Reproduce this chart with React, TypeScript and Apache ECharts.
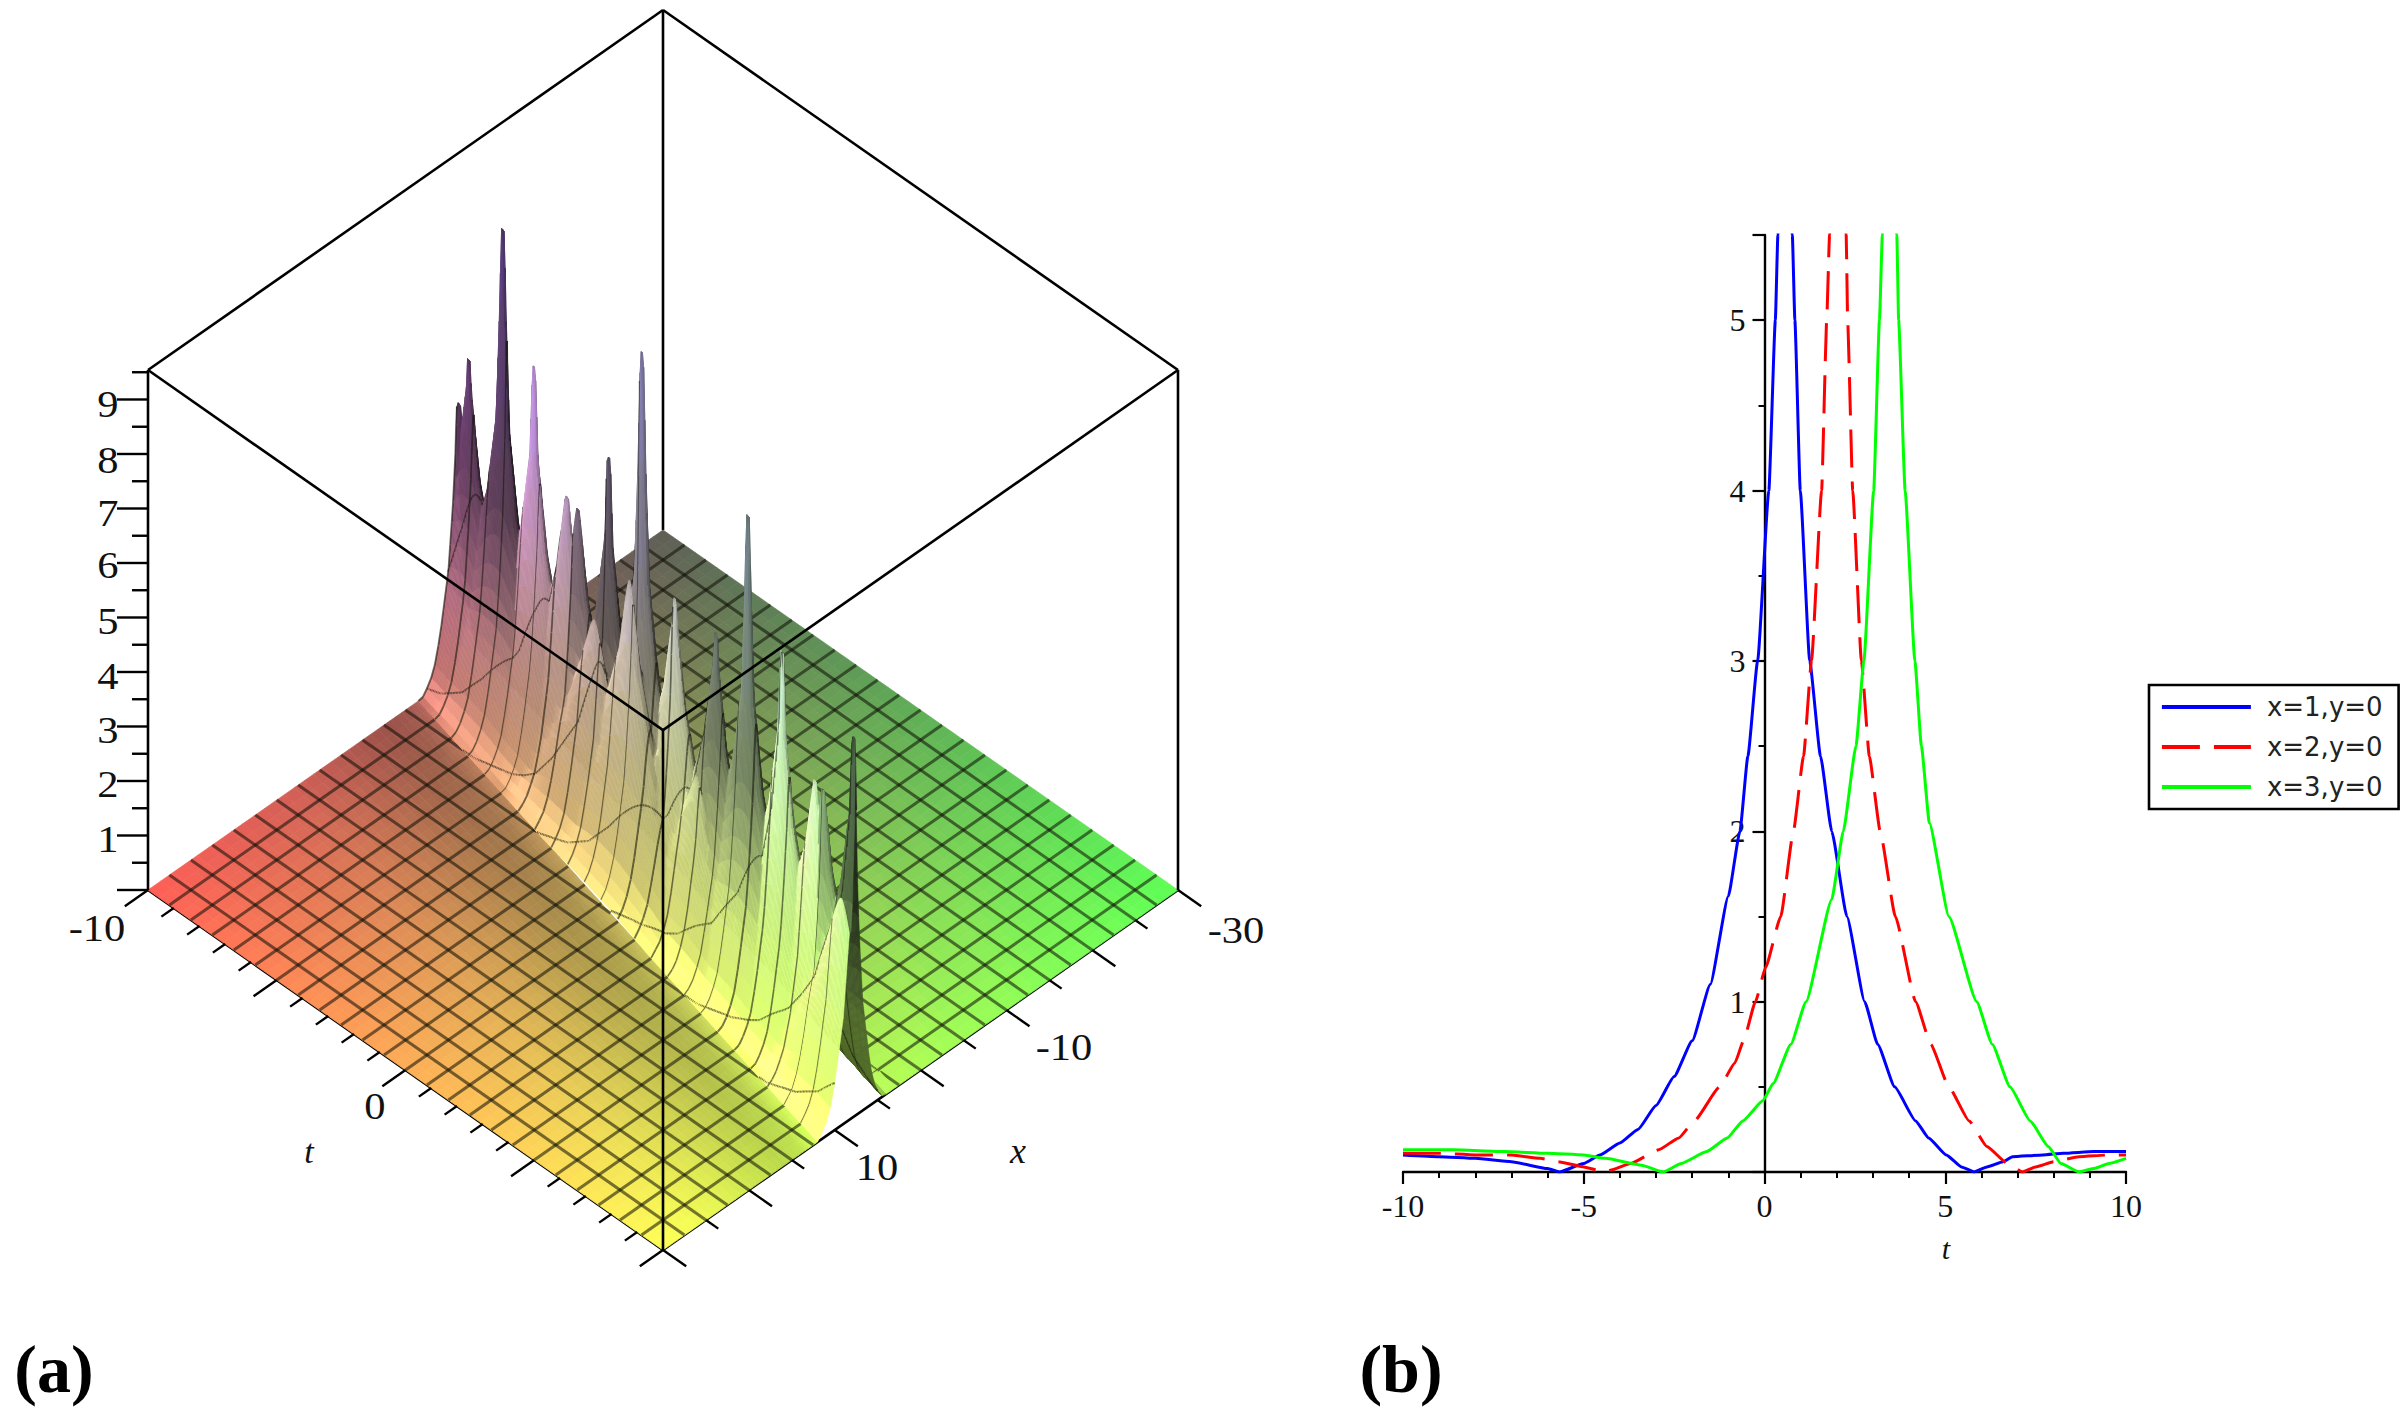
import React, { useEffect, useRef } from "react";
import * as echarts from "echarts";

// ---------- panel (a) ----------
const tRange = [-10, 10];
const xRange = [-30, 30];
const zTop = 9.54;
const zPxPerUnit = 54.5;
const meshCells = 24;
const ridgeEndsT = [-10, 10];
const ridgeEndsX = [-6, 7.5];
// needle positions on the singular ridge (t, x) and their heights
const spikeT = [-9.4, -9.9, -7.7, -6.14, -4.49, -3.94, -2.39, -0.73, 0.92, 2.98, 4.58, 6.28, 7.94, 8.34, 9.9, -2.78, -1.02, 0.38, 2.34, 3.88, 5.48, 9.6];
const spikeX = [-5.6, -5.94, -4.44, -3.42, -2.28, -1.92, -0.86, 0.24, 1.38, 2.76, 3.84, 4.98, 6.12, 6.36, 7.5, -0.42, 0.78, 1.74, 3.06, 4.08, 5.16, 7.92];
const spikeZ = [6.0, 5.0, 9.08, 7.2, 5.48, 5.47, 7.05, 9.65, 5.8, 6.0, 8.8, 7.0, 5.3, 5.3, 6.9, 4.2, 5.7, 2.8, 3.25, 2.7, 2.5, 4.1];
const spikeTone = [0.62, 0.55, 0.55, 1.12, 1.05, 0.7, 0.55, 0.72, 1.05, 0.6, 0.62, 1.05, 1.1, 0.7, 0.4, 1.05, 1.05, 1.05, 1.05, 1.05, 1.05, 1.05];
// cross-section of the wave (distance from ridge as a fraction of the x range -> height)
const profileR = [0, 0.002, 0.0036, 0.0077, 0.013, 0.02, 0.0345, 0.044, 0.055, 0.07];
const profileZ = [11, 7.5, 5.5, 4, 3, 2, 1, 0.5, 0.2, 0];
// brightness of the floor in front of the ridge
const floorToneD = [0.07, 0.085, 0.105, 0.14, 0.19, 0.25, 0.32];
const floorToneV = [1.08, 1.0, 0.9, 0.86, 0.9, 0.96, 1];
const bandOffsets = [0, 0.0015, 0.003, 0.005, 0.0075, 0.01, 0.013, 0.016, 0.02, 0.025, 0.03, 0.036, 0.043, 0.05, 0.058, 0.066, 0.075];
const zTickValues = [0, 0.5, 1, 1.5, 2, 2.5, 3, 3.5, 4, 4.5, 5, 5.5, 6, 6.5, 7, 7.5, 8, 8.5, 9, 9.5];
const tTickValues = [-10, -9, -8, -7, -6, -5, -4, -3, -2, -1, 0, 1, 2, 3, 4, 5, 6, 7, 8, 9, 10];
const xTickValues = [-30, -25, -20, -15, -10, -5, 0, 5, 10, 15, 20, 25, 30];

// ---------- panel (b) ----------
const blueT = [-10, -9, -8, -7, -6, -5.67, -5, -4.55, -4, -3.5, -3, -2.5, -2, -1.5, -1, -0.68, -0.46, -0.19, 0.12, 0.3, 0.37, 0.57, 0.77, 0.84, 0.99, 1.25, 1.55, 1.86, 2.28, 2.77, 3.13, 3.6, 4.18, 4.54, 5.03, 5.45, 5.8, 6.15, 6.6, 6.86, 7.7, 8.27, 9.1, 10];
const blueY = [0.1, 0.09, 0.08, 0.06, 0.02, 0, 0.05, 0.1, 0.17, 0.25, 0.39, 0.56, 0.77, 1.1, 1.62, 2, 2.44, 3, 4, 5, 5.5, 7, 5.5, 5, 4, 3, 2.44, 2, 1.5, 1, 0.75, 0.5, 0.3, 0.2, 0.1, 0.03, 0, 0.03, 0.06, 0.09, 0.1, 0.11, 0.12, 0.12];
const redT = [-10, -9, -8, -7, -6.2, -5.7, -5, -4.4, -4.27, -3.7, -2.93, -2.37, -1.94, -1.24, -0.82, -0.58, -0.25, 0.03, 0.45, 0.8, 1.08, 1.3, 1.58, 1.72, 1.8, 2.03, 2.26, 2.3, 2.44, 2.68, 2.9, 3.2, 3.62, 4.18, 4.6, 5.1, 5.66, 6.15, 6.72, 7.14, 7.5, 8, 8.7, 9.53, 10];
const redY = [0.11, 0.11, 0.1, 0.1, 0.08, 0.06, 0.03, 0, 0.01, 0.05, 0.13, 0.2, 0.3, 0.5, 0.64, 0.77, 1, 1.2, 1.5, 2, 2.44, 3, 4, 5, 5.5, 7, 5.5, 5, 4, 3, 2.44, 2, 1.5, 1, 0.75, 0.5, 0.3, 0.15, 0.05, 0, 0.03, 0.06, 0.09, 0.1, 0.1];
const greenT = [-10, -8.6, -7.2, -6, -5, -4.4, -3.4, -2.8, -2.3, -1.6, -1.03, -0.6, -0.04, 0.24, 0.73, 1.15, 1.86, 2.18, 2.53, 2.75, 3.02, 3.18, 3.26, 3.46, 3.66, 3.71, 3.89, 4.16, 4.34, 4.56, 5.1, 5.87, 6.3, 6.79, 7.35, 7.85, 8.2, 8.7, 9.1, 9.53, 10];
const greenY = [0.13, 0.13, 0.12, 0.11, 0.1, 0.08, 0.04, 0, 0.05, 0.12, 0.2, 0.3, 0.42, 0.52, 0.75, 1, 1.6, 2, 2.5, 3, 4, 5, 5.5, 7, 5.5, 5, 4, 3, 2.5, 2.05, 1.5, 1, 0.75, 0.5, 0.3, 0.15, 0.05, 0, 0.02, 0.05, 0.08];
const seriesNames = ["x=1,y=0", "x=2,y=0", "x=3,y=0"];

// ---------- helpers ----------
const SERIF = "Liberation Serif";
const normT = (t: number) => (t - tRange[0]) / (tRange[1] - tRange[0]);
const normX = (x: number) => (x - xRange[0]) / (xRange[1] - xRange[0]);
const zScale = zPxPerUnit / 360;
const proj = (a: number, b: number, z: number) => [a - b, a + b - z * zScale];
const lerpTable = (xs: number[], ys: number[], v: number) => {
  if (v <= xs[0]) return ys[0];
  for (let i = 1; i < xs.length; i++) {
    if (v <= xs[i]) return ys[i - 1] + ((ys[i] - ys[i - 1]) * (v - xs[i - 1])) / (xs[i] - xs[i - 1]);
  }
  return ys[ys.length - 1];
};
const ridgeA0 = normT(ridgeEndsT[0]);
const ridgeB0 = normX(ridgeEndsX[0]);
const ridgeSlope = (normX(ridgeEndsX[1]) - ridgeB0) / (normT(ridgeEndsT[1]) - ridgeA0);
const ridgeB = (a: number) => ridgeB0 + ridgeSlope * (a - ridgeA0);
const invProfile = (z: number) => {
  for (let i = 1; i < profileZ.length; i++) {
    if (z >= profileZ[i]) return profileR[i - 1] + ((profileR[i] - profileR[i - 1]) * (profileZ[i - 1] - z)) / (profileZ[i - 1] - profileZ[i]);
  }
  return profileR[profileR.length - 1];
};
const spikes = spikeT.map((t, i) => {
  const a = normT(t);
  const b = normX(spikeX[i]);
  return { a, off: b - ridgeB(a), r0: invProfile(spikeZ[i]), tone: spikeTone[i] };
});
const NEEDLE = 0.19;
const BLUNT = 0.0007;
const BAND = bandOffsets[bandOffsets.length - 1];
function height(a: number, d: number): [number, number] {
  let best = 0;
  let tone = 1;
  for (const s of spikes) {
    let dd = d - s.off;
    if (dd < 0) dd *= 1.3;
    const da = NEEDLE * (a - s.a);
    const r = Math.max(0, Math.sqrt(dd * dd + da * da) - BLUNT) + s.r0;
    const z = lerpTable(profileR, profileZ, r);
    if (z > best) {
      best = z;
      tone = s.tone;
    }
  }
  return [best, tone];
}
const baseColor = (a: number, b: number, z: number) => [0.37 + 0.63 * b, 0.37 + 0.63 * a, 0.34 + (0.62 * z) / 9.55];
const clamp01 = (v: number) => Math.max(0, Math.min(1, v));
const toRgb = (c: number[], shade: number, spec = 0) =>
  `rgb(${c.map((v) => Math.round(255 * clamp01(v * shade + spec))).join(",")})`;
const L = [-0.62, 0.52, 0.6];
const FLOOR_LIT = 0.35 + 0.8 * L[2];

// band samples
const aSet = new Set<number>();
for (let i = 0; i <= 340; i++) aSet.add(+(i / 340).toFixed(5));
for (let k = 0; k <= meshCells; k++) aSet.add(+(k / meshCells).toFixed(5));
spikes.forEach((s) => {
  const v = +s.a.toFixed(5);
  aSet.add(v);
});
const aSamples = Array.from(aSet).filter((v) => v >= 0 && v <= 1).sort((p, q) => p - q);
const dSamples = [...bandOffsets.slice(1).reverse().map((v) => -v), ...bandOffsets];
const heights = aSamples.map((a) => dSamples.map((d) => height(a, d)));

const meshA = new Set<number>();
for (let k = 0; k <= meshCells; k++) meshA.add(+(k / meshCells).toFixed(5));
const meshB: number[] = [];
for (let k = 0; k <= meshCells; k++) meshB.push(k / meshCells);
const MESH_BAND = { stroke: "rgba(20,22,10,0.58)", lineWidth: 2.1 };
const MESH_FLOOR = { stroke: "rgba(15,15,5,0.56)", lineWidth: 3 };

function bandColumn(api: any, i: number) {
  const a0 = aSamples[i];
  const a1 = aSamples[i + 1];
  const h0 = heights[i];
  const h1 = heights[i + 1];
  const kids: any[] = [];
  const isMesh = meshA.has(a0);
  const b0p = ridgeB(a0);
  const b1p = ridgeB(a1);
  for (let j = 0; j < dSamples.length - 1; j++) {
    const d0 = dSamples[j];
    const d1 = dSamples[j + 1];
    const p00 = api.coord(proj(a0, b0p + d0, h0[j][0]));
    const p01 = api.coord(proj(a0, b0p + d1, h0[j + 1][0]));
    const p11 = api.coord(proj(a1, b1p + d1, h1[j + 1][0]));
    const p10 = api.coord(proj(a1, b1p + d0, h1[j][0]));
    const zm = (h0[j][0] + h0[j + 1][0] + h1[j][0] + h1[j + 1][0]) / 4;
    const am = (a0 + a1) / 2;
    const dm = (d0 + d1) / 2;
    const bm = ridgeB(am) + dm;
    const dzda = ((h1[j][0] + h1[j + 1][0] - h0[j][0] - h0[j + 1][0]) / 2 / 9.55) / (a1 - a0);
    const dzdb = ((h0[j + 1][0] + h1[j + 1][0] - h0[j][0] - h1[j][0]) / 2 / 9.55) / (d1 - d0);
    const dzdaTrue = dzda - ridgeSlope * dzdb;
    const nLen = Math.sqrt(dzdaTrue * dzdaTrue + dzdb * dzdb + 1);
    const nl = (-dzdaTrue * L[0] - dzdb * L[1] + L[2]) / nLen;
    const lit = Math.max(0, nl);
    let shade = (0.35 + 0.8 * lit) / FLOOR_LIT;
    const spec = Math.pow(clamp01((lit - 0.74) / 0.26), 2) * 0.2;
    const mix = clamp01((zm - 1.5) / 2.5);
    const tone = h0[j][1];
    shade *= 1 + (tone - 1) * mix;
    if (dm > 0.05) shade *= lerpTable(floorToneD, floorToneV, dm);
    const fill = toRgb(baseColor(am, bm, zm), shade, spec * (1 - mix));
    kids.push({
      type: "polygon",
      shape: { points: [p00, p01, p11, p10] },
      style: { fill, stroke: fill, lineWidth: 0.6 },
    });
    if (isMesh) {
      kids.push({
        type: "line",
        shape: { x1: p00[0], y1: p00[1], x2: p01[0], y2: p01[1] },
        style: MESH_BAND,
      });
    }
    for (const c of meshB) {
      const e0 = c - b0p;
      const e1 = c - b1p;
      if (e0 >= d0 && e0 < d1 && Math.abs(e1) <= BAND) {
        const z0 = height(a0, e0)[0];
        const z1 = height(a1, e1)[0];
        const q0 = api.coord(proj(a0, c, z0));
        const q1 = api.coord(proj(a1, c, z1));
        kids.push({
          type: "line",
          shape: { x1: q0[0], y1: q0[1], x2: q1[0], y2: q1[1] },
          style: MESH_BAND,
        });
      }
    }
  }
  return { type: "group", children: kids };
}

const FLOOR_COLS = 48;
const frontFrac = Array.from({ length: 33 }, (_, k) => Math.pow(k / 32, 1.5));
const backFrac = Array.from({ length: 17 }, (_, k) => k / 16);
function floorColumn(api: any, i: number) {
  const a0 = i / FLOOR_COLS;
  const a1 = (i + 1) / FLOOR_COLS;
  const am = (a0 + a1) / 2;
  const kids: any[] = [];
  const quad = (b00: number, b01: number, b10: number, b11: number, tone: number) => {
    const bm = (b00 + b01 + b10 + b11) / 4;
    const fill = toRgb(baseColor(am, bm, 0), tone);
    return {
      type: "polygon",
      shape: {
        points: [api.coord(proj(a0, b00, 0)), api.coord(proj(a0, b01, 0)), api.coord(proj(a1, b11, 0)), api.coord(proj(a1, b10, 0))],
      },
      style: { fill, stroke: fill, lineWidth: 0.7 },
    };
  };
  const r0 = ridgeB(a0);
  const r1 = ridgeB(a1);
  const stops0 = backFrac.map((f) => f * (r0 - BAND));
  const stops1 = backFrac.map((f) => f * (r1 - BAND));
  for (let j = 0; j < stops0.length - 1; j++) kids.push(quad(stops0[j], stops0[j + 1], stops1[j], stops1[j + 1], 1));
  const fr0 = frontFrac.map((f) => r0 + BAND + f * (1 - r0 - BAND));
  const fr1 = frontFrac.map((f) => r1 + BAND + f * (1 - r1 - BAND));
  for (let j = 0; j < fr0.length - 1; j++) {
    const d = (fr0[j] + fr0[j + 1]) / 2 - r0;
    kids.push(quad(fr0[j], fr0[j + 1], fr1[j], fr1[j + 1], lerpTable(floorToneD, floorToneV, d)));
  }
  return { type: "group", children: kids };
}

function floorMesh(api: any) {
  const kids: any[] = [];
  const seg = (a0: number, b0: number, a1: number, b1: number) => {
    const p = api.coord(proj(a0, b0, 0));
    const q = api.coord(proj(a1, b1, 0));
    kids.push({
      type: "line",
      shape: { x1: p[0], y1: p[1], x2: q[0], y2: q[1] },
      style: MESH_FLOOR,
    });
  };
  for (let k = 1; k < meshCells; k++) {
    const v = k / meshCells;
    const r = ridgeB(v);
    seg(v, 0, v, r - BAND);
    seg(v, r + BAND, v, 1);
    const aFront = (v - BAND - ridgeB0) / ridgeSlope;
    const aBack = (v + BAND - ridgeB0) / ridgeSlope;
    if (aFront > 0) seg(0, v, Math.min(1, aFront), v);
    if (aBack < 1) seg(Math.max(0, aBack), v, 1, v);
  }
  return { type: "group", children: kids };
}

const edgeKid = (api: any, p: number[], q: number[], w = 2.6, color = "#000") => {
  const s = api.coord(proj(p[0], p[1], p[2]));
  const e = api.coord(proj(q[0], q[1], q[2]));
  return { type: "line", shape: { x1: s[0], y1: s[1], x2: e[0], y2: e[1] }, style: { stroke: color, lineWidth: w } };
};
// box corners as (a, b, z)
const boxBack = [
  [[0, 0, 0], [0, 0, zTop]],
  [[0, 1, zTop], [0, 0, zTop]],
  [[0, 0, zTop], [1, 0, zTop]],
];
const boxFront = [
  [[0, 1, 0], [0, 1, zTop]],
  [[1, 1, 0], [1, 1, zTop]],
  [[1, 0, 0], [1, 0, zTop]],
  [[0, 1, zTop], [1, 1, zTop]],
  [[1, 0, zTop], [1, 1, zTop]],
];
const boxFloor = [
  [[0, 1, 0], [1, 1, 0]],
  [[1, 0, 0], [1, 1, 0]],
];

const oneItem = [[0, 0]];
function axisTicks(api: any) {
  const kids: any[] = [];
  zTickValues.forEach((z, i) => {
    const major = i % 2 === 0;
    const p = api.coord(proj(0, 1, z));
    kids.push({
      type: "line",
      shape: { x1: p[0] - (major ? 31 : 16), y1: p[1], x2: p[0], y2: p[1] },
      style: { stroke: "#000", lineWidth: 2.4 },
    });
  });
  tTickValues.forEach((t) => {
    const a = normT(t);
    const major = t % 5 === 0;
    kids.push(edgeKid(api, [a, 1, 0], [a, 1 + (major ? 0.045 : 0.024), 0], 2.4));
  });
  xTickValues.forEach((x) => {
    const b = normX(x);
    const major = x % 10 === 0;
    kids.push(edgeKid(api, [1, b, 0], [1 + (major ? 0.045 : 0.024), b, 0], 2.4));
  });
  return { type: "group", children: kids };
}

const leftTexts = [
  { text: "9", x: 108, y: 404 }, { text: "8", x: 108, y: 460 }, { text: "7", x: 108, y: 513 },
  { text: "6", x: 108, y: 565 }, { text: "5", x: 108, y: 621 }, { text: "4", x: 108, y: 676 },
  { text: "3", x: 108, y: 730 }, { text: "2", x: 108, y: 784 }, { text: "1", x: 108, y: 839 },
  { text: "-10", x: 97, y: 928 }, { text: "0", x: 375, y: 1106 }, { text: "-30", x: 1236, y: 930 },
  { text: "-10", x: 1064, y: 1047 }, { text: "10", x: 877, y: 1167 },
];

export default function App() {
  const ref = useRef<HTMLDivElement>(null);
  useEffect(() => {
    const chart = echarts.init(ref.current!, undefined, { renderer: "svg" });
    const lineCommon = { type: "line", xAxisIndex: 1, yAxisIndex: 1, showSymbol: false, symbol: "none", clip: true, silent: true, smooth: 0.15, smoothMonotone: "x" };
    const label = (text: string, x: number, y: number, style: any = {}, scaleX = 1) => ({
      type: "text",
      x,
      y,
      scaleX,
      silent: true,
      style: { text, fontFamily: SERIF, fontSize: 37, fill: "#111", textAlign: "center", textVerticalAlign: "middle", ...style },
    });
    chart.setOption({
      animation: false,
      backgroundColor: "#fff",
      grid: [
        { left: 148, top: 10, width: 1030, height: 1240, show: false },
        { left: 1403, top: 235, width: 723, height: 937, show: false },
      ],
      xAxis: [
        { type: "value", gridIndex: 0, min: -1, max: 1, show: false },
        {
          type: "value",
          gridIndex: 1,
          min: -10,
          max: 10,
          interval: 5,
          axisLine: { show: true, onZero: true, lineStyle: { color: "#000", width: 2.4 } },
          axisTick: { show: true, length: 12, lineStyle: { color: "#000", width: 2.2 } },
          minorTick: { show: true, splitNumber: 5, length: 6, lineStyle: { color: "#000", width: 2 } },
          axisLabel: { fontFamily: SERIF, fontSize: 32, color: "#111", margin: 18, formatter: (v: number) => String(v) },
          splitLine: { show: false },
        },
      ],
      yAxis: [
        { type: "value", gridIndex: 0, min: -1.4444, max: 2, inverse: true, show: false },
        {
          type: "value",
          gridIndex: 1,
          min: 0,
          max: 5.5,
          interval: 1,
          position: "left",
          offset: -361.5,
          axisLine: { show: true, onZero: false, lineStyle: { color: "#000", width: 2.4 } },
          axisTick: { show: true, length: 12, lineStyle: { color: "#000", width: 2.2 } },
          minorTick: { show: true, splitNumber: 2, length: 6, lineStyle: { color: "#000", width: 2 } },
          axisLabel: {
            fontFamily: SERIF,
            fontSize: 32,
            color: "#111",
            margin: 19,
            formatter: (v: number) => (v > 0 && Number.isInteger(v) ? String(v) : ""),
          },
          splitLine: { show: false },
        },
      ],
      legend: {
        data: seriesNames,
        orient: "vertical",
        left: 2149,
        top: 685,
        padding: [9, 16, 9, 11],
        itemWidth: 89,
        itemHeight: 26,
        itemGap: 14,
        selectedMode: false,
        backgroundColor: "#fff",
        borderColor: "#000",
        borderWidth: 2.6,
        itemStyle: { opacity: 0, borderWidth: 0 },
        lineStyle: { width: 3.8 },
        textStyle: { fontFamily: "DejaVu Sans", fontSize: 26, color: "#222", padding: [0, 0, 0, 11] },
      },
      series: [
        {
          type: "custom",
          coordinateSystem: "cartesian2d",
          xAxisIndex: 0,
          yAxisIndex: 0,
          silent: true,
          data: oneItem,
          renderItem: (_: any, api: any) => ({
            type: "group",
            children: [...boxBack, ...boxFloor].map((e) => edgeKid(api, e[0], e[1])),
          }),
        },
        {
          type: "custom",
          coordinateSystem: "cartesian2d",
          xAxisIndex: 0,
          yAxisIndex: 0,
          silent: true,
          data: Array.from({ length: FLOOR_COLS }, (_, i) => [i / FLOOR_COLS, i]),
          renderItem: (p: any, api: any) => floorColumn(api, p.dataIndex),
        },
        {
          type: "custom",
          coordinateSystem: "cartesian2d",
          xAxisIndex: 0,
          yAxisIndex: 0,
          silent: true,
          data: oneItem,
          renderItem: (_: any, api: any) => floorMesh(api),
        },
        {
          type: "custom",
          coordinateSystem: "cartesian2d",
          xAxisIndex: 0,
          yAxisIndex: 0,
          silent: true,
          data: aSamples.slice(0, -1).map((a, i) => [a, i]),
          renderItem: (p: any, api: any) => bandColumn(api, p.dataIndex),
        },
        {
          type: "custom",
          coordinateSystem: "cartesian2d",
          xAxisIndex: 0,
          yAxisIndex: 0,
          silent: true,
          data: oneItem,
          renderItem: (_: any, api: any) => ({
            type: "group",
            children: [...boxFront.map((e) => edgeKid(api, e[0], e[1])), axisTicks(api)],
          }),
        },
        { ...lineCommon, name: seriesNames[0], data: blueT.map((t, i) => [t, blueY[i]]), lineStyle: { color: "#0000ff", width: 3 }, itemStyle: { color: "#0000ff" } },
        { ...lineCommon, name: seriesNames[1], data: redT.map((t, i) => [t, redY[i]]), lineStyle: { color: "#ff0000", width: 3, type: [38, 14] }, itemStyle: { color: "#ff0000" } },
        { ...lineCommon, name: seriesNames[2], data: greenT.map((t, i) => [t, greenY[i]]), lineStyle: { color: "#00ff00", width: 3 }, itemStyle: { color: "#00ff00" } },
      ],
      graphic: [
        ...leftTexts.map((l) => label(l.text, l.x, l.y, {}, 1.15)),
        label("t", 309, 1151, { fontStyle: "italic", fontSize: 34 }),
        label("x", 1018, 1151, { fontStyle: "italic", fontSize: 36 }),
        label("t", 1946, 1248, { fontStyle: "italic", fontSize: 30 }),
        label("(a)", 54, 1369, { fontSize: 68, fontWeight: "bold", fill: "#000" }),
        label("(b)", 1401, 1369, { fontSize: 68, fontWeight: "bold", fill: "#000" }),
      ],
    });
    return () => chart.dispose();
  }, []);
  return <div ref={ref} style={{ position: "fixed", left: 0, top: 0, width: 2408, height: 1418, background: "#fff" }} />;
}
